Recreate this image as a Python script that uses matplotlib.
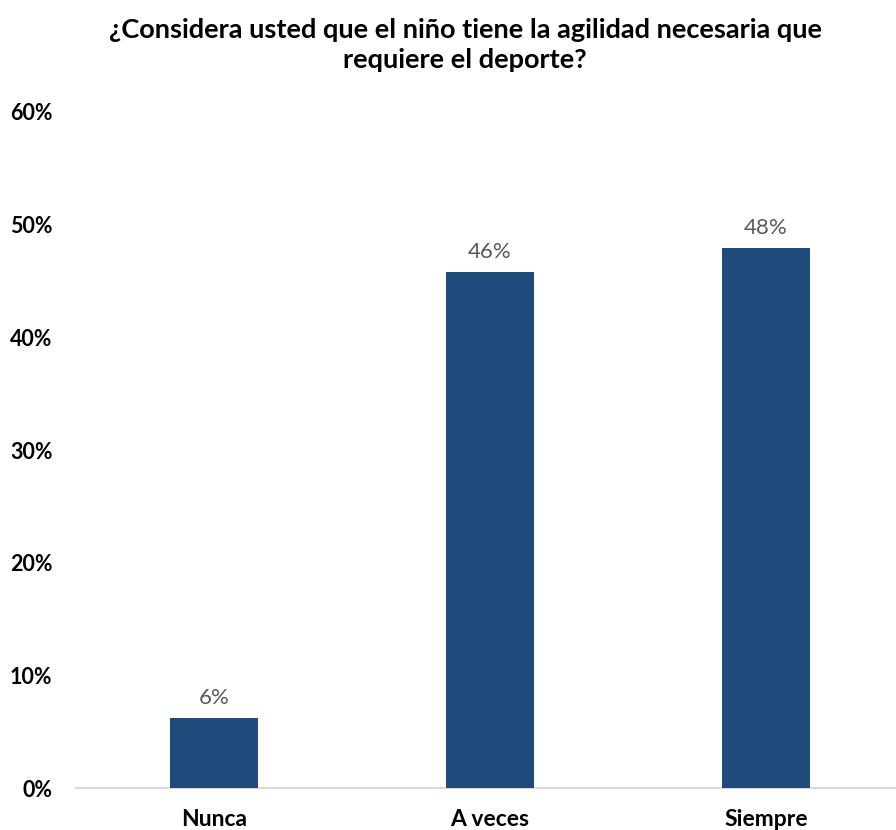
import matplotlib
matplotlib.use("Agg")
import matplotlib.pyplot as plt
from matplotlib.ticker import FuncFormatter, MultipleLocator

plt.rcParams['font.family'] = ['Lato', 'DejaVu Sans']

categories = ["Nunca", "A veces", "Siempre"]
values = [6.25, 45.83, 47.92]
title = "¿Considera usted que el niño tiene la agilidad necesaria que\nrequiere el deporte?"

bar_color = "#1F4A7C"
label_color = "#595959"

fig = plt.figure(figsize=(8.96, 8.30), dpi=100)
ax = fig.add_axes([76 / 896, 1 - 788 / 830, 820 / 896, (788 - 112) / 830])

x = range(len(categories))
bars = ax.bar(x, values, width=0.32, color=bar_color, zorder=3)

for rect, v in zip(bars, values):
    ax.annotate(f"{v:.0f}%", (rect.get_x() + rect.get_width() / 2, v),
                xytext=(0, 7), textcoords="offset points",
                ha="center", va="bottom", fontsize=16, color=label_color)

ax.set_ylim(0, 60)
ax.set_xlim(-0.5, 2.471)
ax.yaxis.set_major_locator(MultipleLocator(10))
ax.yaxis.set_major_formatter(FuncFormatter(lambda v, p: f"{v:.0f}%"))
ax.set_xticks(list(x))
ax.set_xticklabels(categories)

for lbl in ax.get_yticklabels():
    lbl.set_fontweight("bold")
    lbl.set_fontsize(15.5)
for lbl in ax.get_xticklabels():
    lbl.set_fontweight("bold")
    lbl.set_fontsize(16.5)

ax.tick_params(axis="both", length=0, colors="black")
ax.tick_params(axis="y", pad=17)
ax.tick_params(axis="x", pad=15)

for s in ("top", "right", "left"):
    ax.spines[s].set_visible(False)
ax.spines["bottom"].set_color("#D9D9D9")
ax.spines["bottom"].set_linewidth(1.5)

fig.text(465 / 896, 1 - 45 / 830, title, ha="center", va="center",
         fontsize=19.5, fontweight="bold", linespacing=1.25)

fig.savefig("out.png", dpi=100)
